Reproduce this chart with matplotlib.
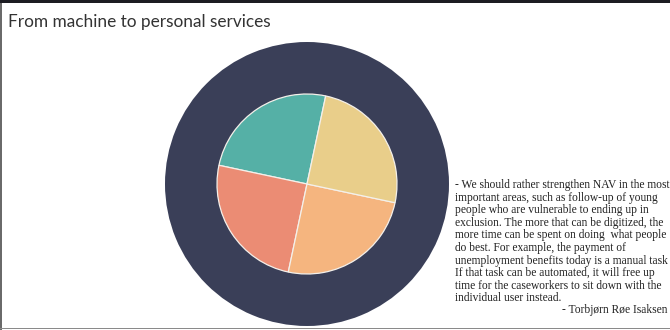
import numpy as np
import matplotlib.pyplot as plt
from matplotlib.patches import Rectangle

# data
slice_values = [25, 25, 25, 25]
slice_colors = ['#55b0a6', '#eb8c74', '#f5b57f', '#e9ce8a']
ring_values = [1]
ring_color = '#3a3f58'
title = 'From machine to personal services'
quote_lines = ["- We should rather strengthen NAV in the most",
               "important areas, such as follow-up of young",
               "people who are vulnerable to ending up in",
               "exclusion. The more that can be digitized, the",
               "more time can be spent on doing  what people",
               "do best. For example, the payment of",
               "unemployment benefits today is a manual task",
               "If that task can be automated, it will free up",
               "time for the caseworkers to sit down with the",
               "individual user instead."]
author = '- Torbjørn Røe Isaksen'

W, H = 670, 330
fig = plt.figure(figsize=(W / 100, H / 100), dpi=100)
fig.patch.set_facecolor('white')

# frame bits: dark band on top, grey rule at left and bottom
fig.add_artist(Rectangle((0, 1 - 3 / H), 1, 3 / H, transform=fig.transFigure,
                         color='#1c1c22', lw=0))
fig.add_artist(Rectangle((0, 0), 1.5 / W, 1 - 3 / H, transform=fig.transFigure,
                         color='#6a6a6a', lw=0))
fig.add_artist(Rectangle((0, 1 / H), 1, 1.5 / H, transform=fig.transFigure,
                         color='#8a8a8a', lw=0))

fig.text(8 / W, 1 - 22 / H, title, fontsize=12.4, color='#333333',
         family='Lato', va='center', ha='left')

# pie axes, centre (307,184) radius 142 px
cx, cy, R = 307, 184, 142
ax = fig.add_axes([(cx - R) / W, 1 - (cy + R) / H, 2 * R / W, 2 * R / H])
ax.set_xlim(-1, 1)
ax.set_ylim(-1, 1)
ax.set_aspect('equal')
ax.axis('off')

ax.pie(ring_values, colors=[ring_color], radius=1.0,
       wedgeprops=dict(width=1.0, linewidth=0))
ax.pie(slice_values, colors=slice_colors, radius=90 / R, startangle=78,
       counterclock=True,
       wedgeprops=dict(edgecolor='#f4f0ea', linewidth=0.9))
ax.set_xlim(-1, 1)
ax.set_ylim(-1, 1)

# quote, one line at a time so the spacing stays put
for i, line in enumerate(quote_lines):
    fig.text(455 / W, 1 - (185 + 12.6 * i) / H, line, fontsize=8.3,
             color='#222222', family='Liberation Serif', va='center', ha='left')
fig.text(668 / W, 1 - 310 / H, author, fontsize=8.3, color='#222222',
         family='Liberation Serif', va='center', ha='right')

fig.savefig('out.png', dpi=100)
